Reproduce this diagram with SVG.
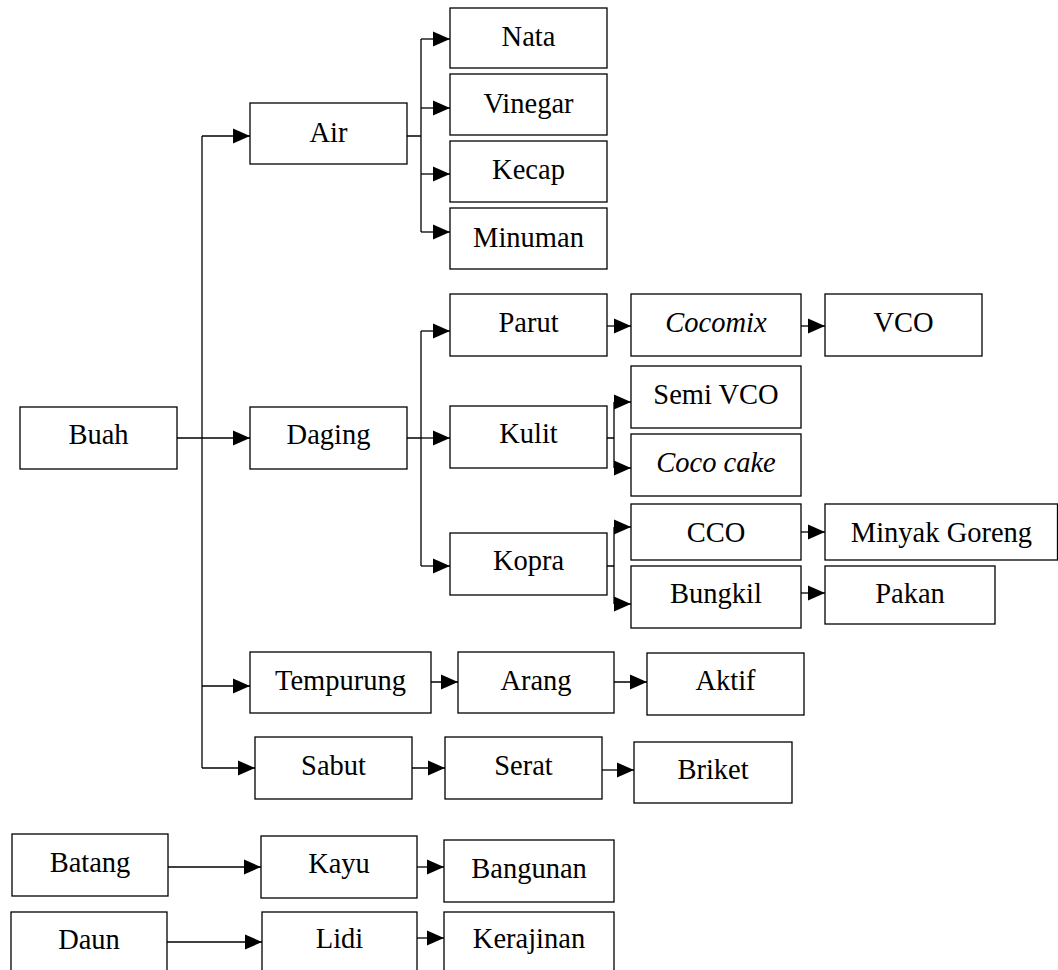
<svg xmlns="http://www.w3.org/2000/svg" width="1058" height="970" viewBox="0 0 1058 970">
<style>
rect{fill:#fff;stroke:#000;stroke-width:1.3}
text{font-family:"Liberation Serif","Times New Roman",serif;font-size:28.5px;text-anchor:middle;fill:#000}
.it{font-style:italic}
#connectors path{fill:none;stroke:#000;stroke-width:1.3}
#connectors path.a{marker-end:url(#ah)}
</style>
<defs>
<marker id="ah" markerUnits="userSpaceOnUse" markerWidth="17" markerHeight="16" refX="17" refY="8" orient="auto" viewBox="0 0 17 16">
<path d="M0,0.5 L17,8 L0,15.5 z" fill="#000"/>
</marker>
</defs>
<rect width="1058" height="970" style="stroke:none"/>
<g id="connectors">
<path d="M202,136 V768"/>
<path class="a" d="M202,136 H250"/>
<path class="a" d="M177,438 H250"/>
<path class="a" d="M202,686 H250"/>
<path class="a" d="M202,768 H255"/>
<path d="M407,136 H421 M421,39 V232"/>
<path class="a" d="M421,39 H450"/>
<path class="a" d="M421,108 H450"/>
<path class="a" d="M421,174 H450"/>
<path class="a" d="M421,232 H450"/>
<path d="M407,438 H421 M421,331 V566"/>
<path class="a" d="M421,331 H450"/>
<path class="a" d="M421,438 H450"/>
<path class="a" d="M421,566 H450"/>
<path class="a" d="M607,326 H631"/>
<path class="a" d="M801,326 H825"/>
<path d="M607,438 H614 M614,402 V468"/>
<path class="a" d="M614,402 H631"/>
<path class="a" d="M614,468 H631"/>
<path d="M607,566 H614 M614,527 V604"/>
<path class="a" d="M614,527 H631"/>
<path class="a" d="M614,604 H631"/>
<path class="a" d="M801,532 H825"/>
<path class="a" d="M801,593 H825"/>
<path class="a" d="M425,682 H458"/>
<path class="a" d="M614,682 H647"/>
<path class="a" d="M412,768 H445"/>
<path class="a" d="M602,770 H634"/>
<path class="a" d="M168,867 H261"/>
<path class="a" d="M417,867 H444"/>
<path class="a" d="M167,942 H262"/>
<path class="a" d="M417,938 H444"/>
</g>
<g id="nata"><rect x="450" y="8" width="157" height="60"/><text x="528.5" y="46">Nata</text></g>
<g id="vinegar"><rect x="450" y="74" width="157" height="61"/><text x="528.5" y="113">Vinegar</text></g>
<g id="kecap"><rect x="450" y="141" width="157" height="61"/><text x="528.5" y="179">Kecap</text></g>
<g id="minuman"><rect x="450" y="208" width="157" height="61"/><text x="528.5" y="247">Minuman</text></g>
<g id="air"><rect x="250" y="103" width="157" height="61"/><text x="328.5" y="142">Air</text></g>
<g id="buah"><rect x="20" y="407" width="157" height="62"/><text x="98.5" y="444">Buah</text></g>
<g id="daging"><rect x="250" y="407" width="157" height="62"/><text x="328.5" y="444">Daging</text></g>
<g id="parut"><rect x="450" y="294" width="157" height="62"/><text x="528.5" y="332">Parut</text></g>
<g id="cocomix"><rect x="631" y="294" width="170" height="62"/><text class="it" x="716" y="332">Cocomix</text></g>
<g id="vco"><rect x="825" y="294" width="157" height="62"/><text x="903.5" y="332">VCO</text></g>
<g id="kulit"><rect x="450" y="406" width="157" height="62"/><text x="528.5" y="443">Kulit</text></g>
<g id="semivco"><rect x="631" y="366" width="170" height="62"/><text x="716" y="404">Semi VCO</text></g>
<g id="cococake"><rect x="631" y="434" width="170" height="62"/><text class="it" x="716" y="472">Coco cake</text></g>
<g id="kopra"><rect x="450" y="533" width="157" height="62"/><text x="528.5" y="570">Kopra</text></g>
<g id="cco"><rect x="631" y="504" width="170" height="56"/><text x="716" y="542">CCO</text></g>
<g id="minyak"><rect x="825" y="504" width="232.5" height="56"/><text x="941.5" y="542">Minyak Goreng</text></g>
<g id="bungkil"><rect x="631" y="566" width="170" height="62"/><text x="716" y="603">Bungkil</text></g>
<g id="pakan"><rect x="825" y="566" width="170" height="58"/><text x="910" y="603">Pakan</text></g>
<g id="tempurung"><rect x="250" y="652" width="181" height="61"/><text x="340.5" y="690">Tempurung</text></g>
<g id="arang"><rect x="458" y="652" width="156" height="61"/><text x="536" y="690">Arang</text></g>
<g id="aktif"><rect x="647" y="653" width="157" height="62"/><text x="725.5" y="690">Aktif</text></g>
<g id="sabut"><rect x="255" y="737" width="157" height="62"/><text x="333.5" y="775">Sabut</text></g>
<g id="serat"><rect x="445" y="737" width="157" height="62"/><text x="523.5" y="775">Serat</text></g>
<g id="briket"><rect x="634" y="742" width="158" height="61"/><text x="713" y="779">Briket</text></g>
<g id="batang"><rect x="12" y="834" width="156" height="62"/><text x="90" y="872">Batang</text></g>
<g id="kayu"><rect x="261" y="836" width="156" height="62"/><text x="339" y="873">Kayu</text></g>
<g id="bangunan"><rect x="444" y="840" width="170" height="62"/><text x="529" y="878">Bangunan</text></g>
<g id="daun"><rect x="11" y="912" width="156" height="64"/><text x="89" y="949">Daun</text></g>
<g id="lidi"><rect x="262" y="912" width="155" height="64"/><text x="339.5" y="948">Lidi</text></g>
<g id="kerajinan"><rect x="444" y="912" width="170" height="64"/><text x="529" y="948">Kerajinan</text></g>
</svg>
